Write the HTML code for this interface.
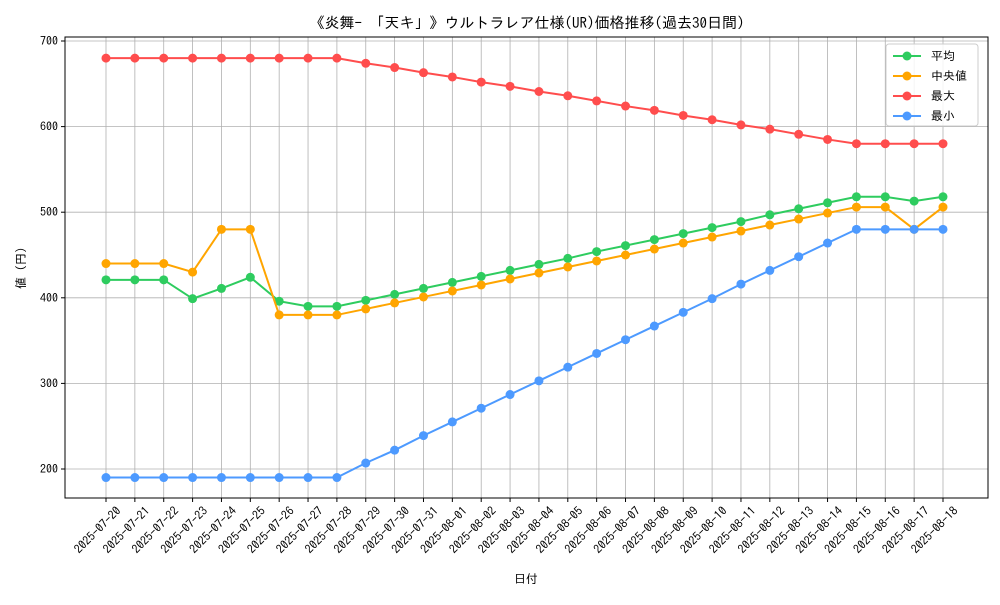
<!DOCTYPE html>
<html><head><meta charset="utf-8"><style>
body{margin:0;background:#fff}
svg text{font-family:"IPAGothic","Noto Sans CJK JP",sans-serif;fill:#000}
</style></head><body>
<svg id="chart" width="1000" height="600" viewBox="0 0 1000 600" xmlns="http://www.w3.org/2000/svg">
<rect width="1000" height="600" fill="#fff"/>
<text x="527" y="28" font-size="15" text-anchor="middle">《炎舞- 「天キ」》ウルトラレア仕様(UR)価格推移(過去30日間)</text>
<g id="grid"></g><g id="axes"></g><g id="series"></g>
<text x="526" y="583" font-size="12" text-anchor="middle">日付</text>
<text transform="translate(25,268) rotate(-90)" font-size="12" text-anchor="middle">値 (円)</text>
<g id="legend"></g>
</svg>
<script>
const dates=["2025-07-20","2025-07-21","2025-07-22","2025-07-23","2025-07-24","2025-07-25","2025-07-26","2025-07-27","2025-07-28","2025-07-29","2025-07-30","2025-07-31","2025-08-01","2025-08-02","2025-08-03","2025-08-04","2025-08-05","2025-08-06","2025-08-07","2025-08-08","2025-08-09","2025-08-10","2025-08-11","2025-08-12","2025-08-13","2025-08-14","2025-08-15","2025-08-16","2025-08-17","2025-08-18"];
const avgValues=[421,421,421,399,411,424,396,390,390,397,404,411,418,425,432,439,446,454,461,468,475,482,489,497,504,511,518,518,513,518];
const medianValues=[440,440,440,430,480,480,380,380,380,387,394,401,408,415,422,429,436,443,450,457,464,471,478,485,492,499,506,506,480,506];
const maxValues=[680,680,680,680,680,680,680,680,680,674,669,663,658,652,647,641,636,630,624,619,613,608,602,597,591,585,580,580,580,580];
const minValues=[190,190,190,190,190,190,190,190,190,207,222,239,255,271,287,303,319,335,351,367,383,399,416,432,448,464,480,480,480,480];
const yTicks=[200,300,400,500,600,700];
const seriesNames=["平均","中央値","最大","最小"];
const NS="http://www.w3.org/2000/svg";
const L=65,R=988,T=37,B=498;
const x=i=>106+i*(943-106)/(dates.length-1);
const y=v=>469-(v-200)*0.856;
function mk(tag,attrs,parent){const e=document.createElementNS(NS,tag);for(const k in attrs)e.setAttribute(k,attrs[k]);parent.appendChild(e);return e;}
const grid=document.getElementById('grid'),axes=document.getElementById('axes'),ser=document.getElementById('series'),leg=document.getElementById('legend');
dates.forEach((d,i)=>{
 const g=mk('line',{x1:x(i),x2:x(i),y1:T,y2:B,stroke:'#b0b0b0','stroke-width':0.8},grid);
 
 
 mk('line',{x1:x(i),x2:x(i),y1:B,y2:B+4,stroke:'#000'},axes);
 const t=mk('text',{transform:`translate(${x(i)+10},${B+8}) rotate(-45)`,'font-size':12,'text-anchor':'end','dominant-baseline':'hanging'},axes);
 
 
 t.textContent=d;
});
yTicks.forEach(v=>{
 const g=mk('line',{x1:L,x2:R,y1:y(v),y2:y(v),stroke:'#b0b0b0','stroke-width':0.8},grid);
 
 
 mk('line',{x1:L-4,x2:L,y1:y(v),y2:y(v),stroke:'#000'},axes);
 const t=mk('text',{x:L-7,y:y(v)+4,'font-size':12,'text-anchor':'end'},axes);
 
 
 t.textContent=v;
});
const frame=mk('rect',{x:L,y:T,width:R-L,height:B-T,fill:'none',stroke:'#000','stroke-width':1},axes);


const all=[avgValues,medianValues,maxValues,minValues];
const colors=["#2ecc5f","#ffa500","#ff4d4d","#4d9aff"];
const keys=["avg","median","max","min"];
all.forEach((vals,s)=>{
 const p=mk('polyline',{points:vals.map((v,i)=>x(i)+','+y(v)).join(' '),fill:'none',stroke:colors[s],'stroke-width':2},ser);
 
 
 vals.forEach((v,i)=>{
  const c=mk('circle',{cx:x(i),cy:y(v),r:4.5,fill:colors[s]},ser);
  
  
 });
});
mk('rect',{x:886,y:44,width:92,height:82,rx:3,fill:'#fff','fill-opacity':0.85,stroke:'#ccc'},leg);
seriesNames.forEach((n,s)=>{
 const yy=56+s*20;
 const g=mk('g',{},leg);
 
 
 mk('line',{x1:893,x2:921,y1:yy,y2:yy,stroke:colors[s],'stroke-width':2},g);
 mk('circle',{cx:907,cy:yy,r:4.5,fill:colors[s]},g);
 const t=mk('text',{x:931,y:yy+4,'font-size':12},g);
 t.textContent=n;
});
</script>
</body></html>
